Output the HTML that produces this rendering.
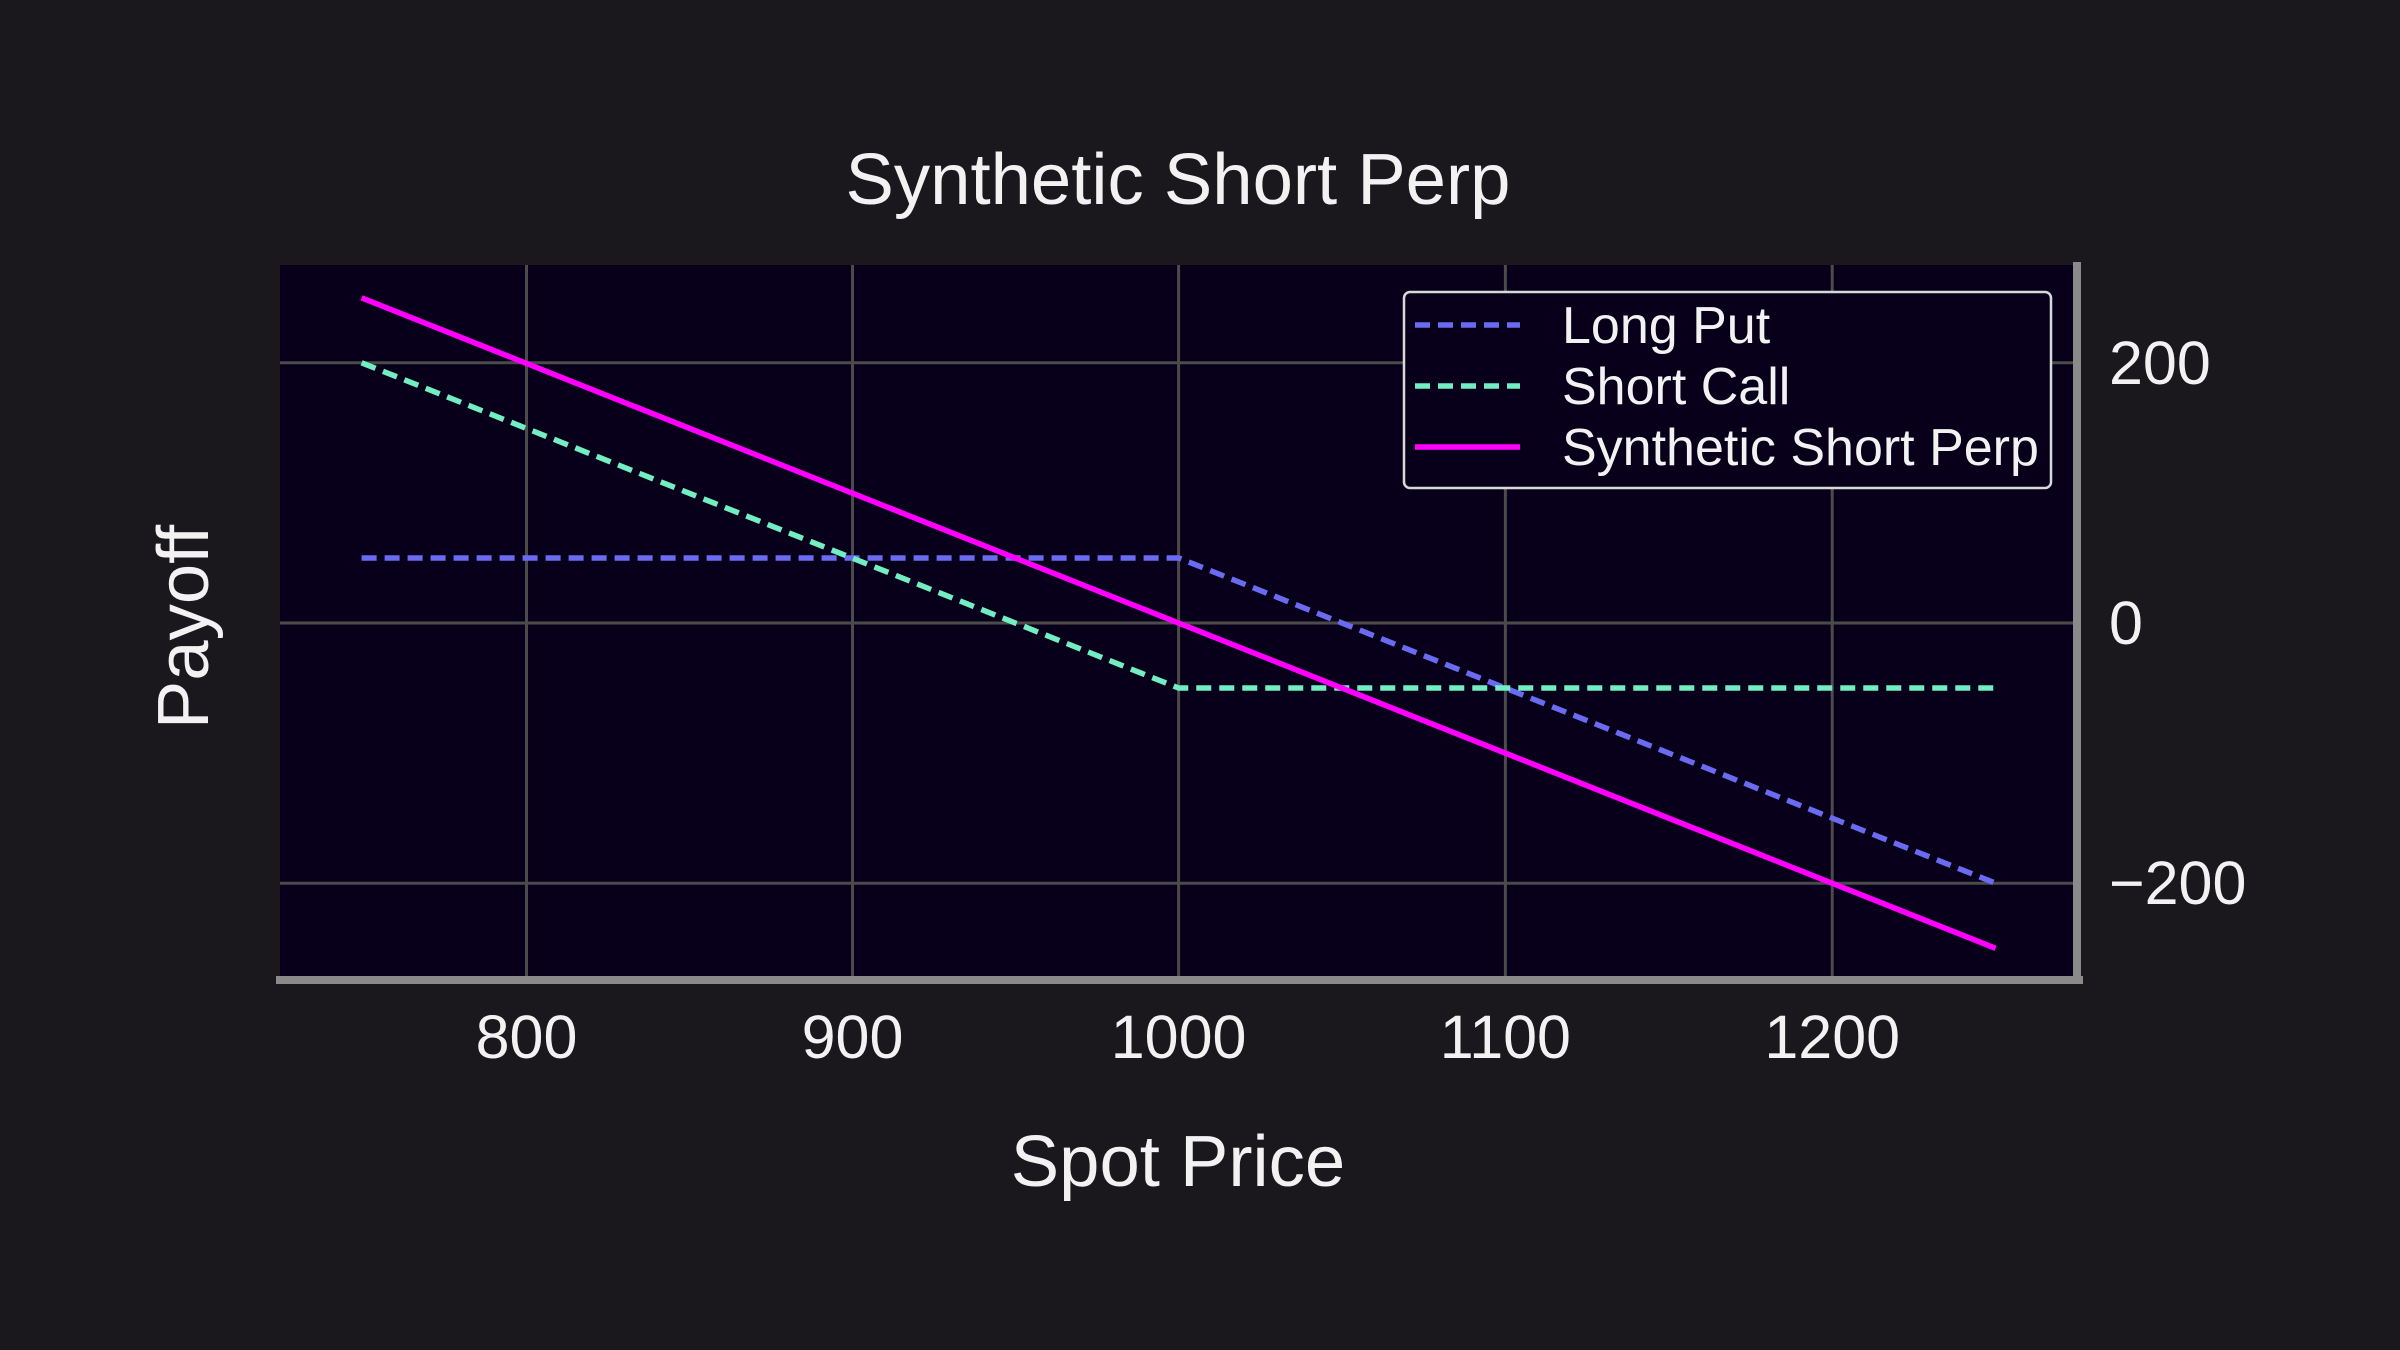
<!DOCTYPE html>
<html><head><meta charset="utf-8"><style>
html,body{margin:0;padding:0;background:#1a181d;}
svg{display:block;}
text{font-family:"Liberation Sans",Arial,sans-serif;fill:#f2f2f2;}
</style></head><body>
<svg width="2400" height="1350" viewBox="0 0 2400 1350" xmlns="http://www.w3.org/2000/svg">
<rect width="2400" height="1350" fill="#1a181d"/>
<rect x="280" y="265" width="1797" height="715" fill="#08001a"/>
<g stroke="#4b4b4b" stroke-width="3">
<line x1="526.5" y1="265" x2="526.5" y2="980"/>
<line x1="852.5" y1="265" x2="852.5" y2="980"/>
<line x1="1178.6" y1="265" x2="1178.6" y2="980"/>
<line x1="1505.4" y1="265" x2="1505.4" y2="980"/>
<line x1="1832.2" y1="265" x2="1832.2" y2="980"/>
<line x1="280" y1="362.8" x2="2077" y2="362.8"/>
<line x1="280" y1="623" x2="2077" y2="623"/>
<line x1="280" y1="883.2" x2="2077" y2="883.2"/>
</g>
<g fill="none" stroke-width="5.5">
<polyline points="361.6,558 1178.6,558 1995.6,883.2" stroke="#6b6bf2" stroke-dasharray="15,8"/>
<polyline points="361.6,362.8 1178.6,688 1995.6,688" stroke="#72eec2" stroke-dasharray="15,8"/>
<polyline points="361.6,297.8 1995.6,948.3" stroke="#ff00ff"/>
</g>
<line x1="276" y1="980" x2="2083" y2="980" stroke="#8a8a8a" stroke-width="8"/>
<line x1="2077" y1="262" x2="2077" y2="984" stroke="#8a8a8a" stroke-width="8"/>
<g font-size="61" text-anchor="middle">
<text x="526.5" y="1058">800</text>
<text x="852.5" y="1058">900</text>
<text x="1178.6" y="1058">1000</text>
<text x="1505.4" y="1058">1100</text>
<text x="1832.2" y="1058">1200</text>
</g>
<g font-size="61">
<text x="2109" y="384">200</text>
<text x="2109" y="644">0</text>
<text x="2109" y="904">−200</text>
</g>
<text x="1178" y="204" font-size="72.5" text-anchor="middle">Synthetic Short Perp</text>
<text x="1178" y="1186" font-size="72.5" text-anchor="middle">Spot Price</text>
<text transform="translate(208,627) rotate(-90)" font-size="72.5" text-anchor="middle">Payoff</text>
<rect x="1404" y="292" width="647" height="196" rx="6" fill="#08001a" stroke="#d8d8d8" stroke-width="2.5"/>
<g stroke-width="5.5">
<line x1="1415" y1="325" x2="1520" y2="325" stroke="#6b6bf2" stroke-dasharray="15,8"/>
<line x1="1415" y1="386" x2="1520" y2="386" stroke="#72eec2" stroke-dasharray="15,8"/>
<line x1="1415" y1="447" x2="1520" y2="447" stroke="#ff00ff"/>
</g>
<g font-size="52">
<text x="1562" y="343">Long Put</text>
<text x="1562" y="404">Short Call</text>
<text x="1562" y="465">Synthetic Short Perp</text>
</g>
</svg>
</body></html>
